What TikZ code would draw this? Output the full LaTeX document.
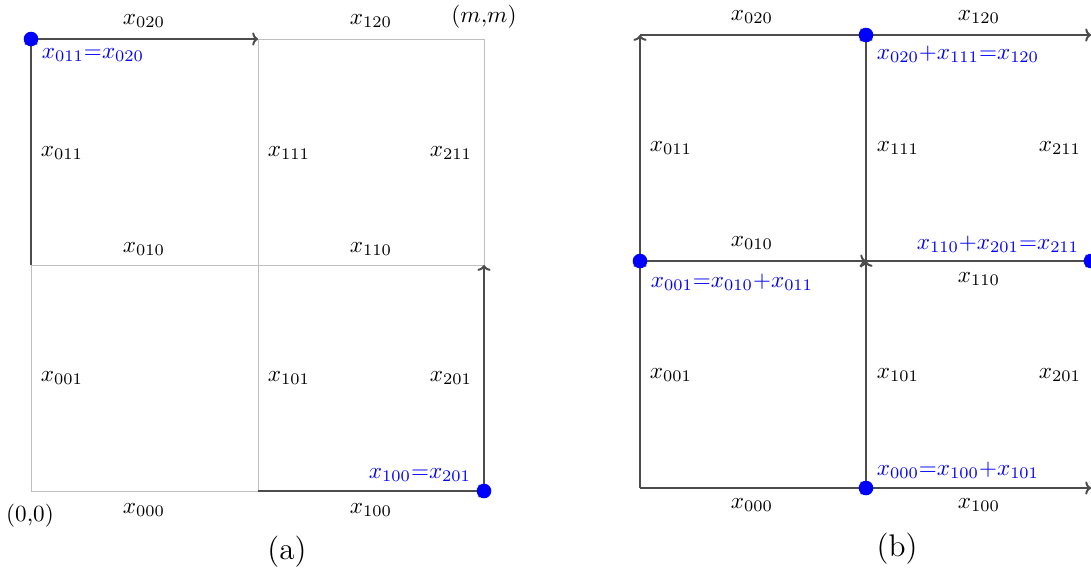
\documentclass[tikz,border=0pt]{standalone}
\usetikzlibrary{arrows.meta}
\begin{document}
\begin{tikzpicture}[x=0.432pt,y=-0.432pt,
  grid/.style={draw=black!25,line width=0.43pt},
  flow/.style={draw=black!70,line width=0.86pt,-{To[length=2.5pt,width=5.7pt]}},
  lab/.style={inner sep=0pt},
  eq/.style={text=blue,inner sep=0pt},
  captxt/.style={inner sep=0pt,font=\fontsize{13.5}{16}\selectfont},
  dot/.style={circle,fill=blue,inner sep=0pt,minimum size=6.3pt}]
\useasboundingbox (0,0) rectangle (1091,574);
% ---------- panel (a) coordinates
\coordinate (a00) at (31,39);   \coordinate (a10) at (258,39);  \coordinate (a20) at (484,39);
\coordinate (a01) at (31,265);  \coordinate (a11) at (258,265); \coordinate (a21) at (484,265);
\coordinate (a02) at (31,491);  \coordinate (a12) at (258,491); \coordinate (a22) at (484,491);
% grid
\draw[grid] (a00) -- (a20) -- (a22) -- (a02) -- cycle;
\draw[grid] (a10) -- (a12);
\draw[grid] (a01) -- (a21);
% flows
\draw[flow] (a01) -- (a00);
\draw[flow] (a00) -- (a10);
\draw[flow] (a12) -- (a22);
\draw[flow] (a22) -- (a21);
\node[dot] (da1) at (a00) {};
\node[dot] (da2) at (a22) {};
% labels
\node[lab] (la020) at (144,21) {$x_{020}$};
\node[lab] (la120) at (371,21) {$x_{120}$};
\node[lab] (lamm) at (484,17) {$(m{,}m)$};
\node[lab] (la011) at (62,153) {$x_{011}$};
\node[lab] (la111) at (289,153) {$x_{111}$};
\node[lab] (la211) at (451,153) {$x_{211}$};
\node[lab] (la010) at (144,249) {$x_{010}$};
\node[lab] (la110) at (371,249) {$x_{110}$};
\node[lab] (la001) at (62,378) {$x_{001}$};
\node[lab] (la101) at (289,378) {$x_{101}$};
\node[lab] (la201) at (451,378) {$x_{201}$};
\node[lab] (la000) at (144,510) {$x_{000}$};
\node[lab] (la100) at (371,510) {$x_{100}$};
\node[lab] (la00) at (30,516) {(0,0)};
\node[captxt] (capa) at (287,552) {(a)};
\node[eq] (ea1) at (93,55) {$x_{011}{=}x_{020}$};
\node[eq] (ea2) at (420,475) {$x_{100}{=}x_{201}$};
% ---------- panel (b) coordinates
\coordinate (b00) at (640,35);  \coordinate (b10) at (866,35);  \coordinate (b20) at (1091,35);
\coordinate (b01) at (640,261); \coordinate (b11) at (866,261); \coordinate (b21) at (1091,261);
\coordinate (b02) at (640,488); \coordinate (b12) at (866,488); \coordinate (b22) at (1091,488);
\draw[flow] (b02) -- (b01);
\draw[flow] (b01) -- (b00);
\draw[flow] (b12) -- (b11);
\draw[flow] (b11) -- (b10);
\draw[flow] (b00) -- (b10);
\draw[flow] (b10) -- (b20);
\draw[flow] (b01) -- (b11);
\draw[flow] (b11) -- (b21);
\draw[flow] (b02) -- (b12);
\draw[flow] (b12) -- (b22);
\node[dot] (db1) at (b10) {};
\node[dot] (db2) at (b01) {};
\node[dot] (db3) at (b21) {};
\node[dot] (db4) at (b12) {};
\node[lab] (lb020) at (752,17) {$x_{020}$};
\node[lab] (lb120) at (979,17) {$x_{120}$};
\node[lab] (lb011) at (671,148) {$x_{011}$};
\node[lab] (lb111) at (898,148) {$x_{111}$};
\node[lab] (lb211) at (1060,148) {$x_{211}$};
\node[lab] (lb010) at (752,243) {$x_{010}$};
\node[lab] (lb110) at (979,279) {$x_{110}$};
\node[lab] (lb001) at (671,375) {$x_{001}$};
\node[lab] (lb101) at (898,375) {$x_{101}$};
\node[lab] (lb201) at (1060,375) {$x_{201}$};
\node[lab] (lb000) at (752,505) {$x_{000}$};
\node[lab] (lb100) at (979,505) {$x_{100}$};
\node[captxt] (capb) at (897,549) {(b)};
\node[eq] (eb1) at (958,54) {$x_{020}{+}x_{111}{=}x_{120}$};
\node[eq] (eb2) at (732,282) {$x_{001}{=}x_{010}{+}x_{011}$};
\node[eq] (eb3) at (998,244) {$x_{110}{+}x_{201}{=}x_{211}$};
\node[eq] (eb4) at (958,470) {$x_{000}{=}x_{100}{+}x_{101}$};
\end{tikzpicture}
\end{document}
